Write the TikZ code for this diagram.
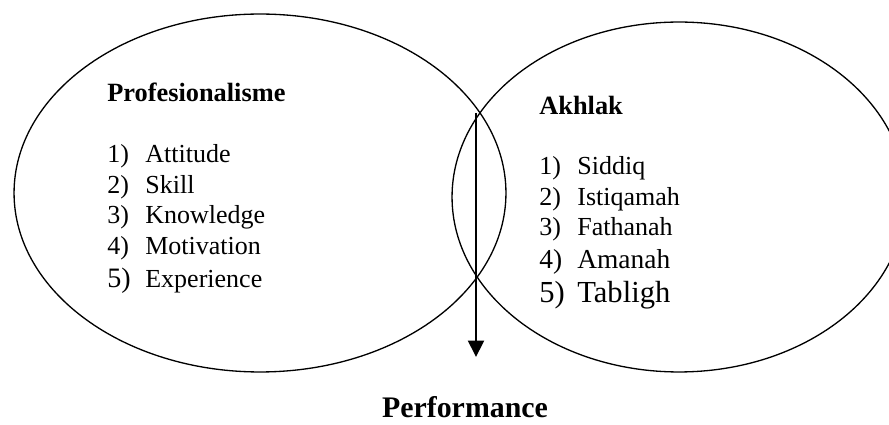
\documentclass[tikz,border=0pt]{standalone}
\usepackage{fontspec}
\setmainfont{Liberation Serif}
\usetikzlibrary{arrows.meta,shapes.geometric}

\newcommand{\nr}[1]{\makebox[0.76cm][l]{#1}}

\begin{document}
\begin{tikzpicture}[
  x=0.02cm, y=-0.02cm,
  ell/.style={draw, ellipse, inner sep=0pt, line width=0.75pt},
  ttl/.style={anchor=base west, inner sep=0pt, font=\fontsize{15}{18}\selectfont\bfseries},
  itm/.style={anchor=base west, inner sep=0pt, font=\fontsize{14.8}{18}\selectfont},
  a/.style={-{Triangle[width=0.32cm,length=0.33cm]}, line width=1.2pt}
]
  \path[use as bounding box, clip] (0,0) rectangle (889,425);
  % the two sets
  \node[ell, minimum width=9.84cm, minimum height=7.16cm] (prof) at (260,193) {};
  \node[ell, minimum width=9.08cm, minimum height=7.0cm] (akh) at (679,197) {};
  % left list
  \node[ttl] (tprof) at (107,102) {Profesionalisme};
  \node[itm] (p1) at (107,163) {\nr{1)}Attitude};
  \node[itm] (p2) at (107,194) {\nr{2)}Skill};
  \node[itm] (p3) at (107,224) {\nr{3)}Knowledge};
  \node[itm] (p4) at (107,255) {\nr{4)}Motivation};
  \node[itm] (p5) at (107,288) {\nr{{\fontsize{16}{18}\selectfont 5)}}Experience};
  % right list
  \node[ttl] (takh) at (539,115) {Akhlak};
  \node[itm] (a1) at (539,175) {\nr{1)}Siddiq};
  \node[itm] (a2) at (539,206) {\nr{2)}Istiqamah};
  \node[itm] (a3) at (539,236) {\nr{3)}Fathanah};
  \node[itm, font=\fontsize{15.6}{18}\selectfont] (a4) at (539,269) {\nr{4)}Amanah};
  \node[itm, font=\fontsize{17.4}{18}\selectfont] (a5) at (539,303) {\nr{5)}Tabligh};
  % result
  \coordinate (top) at (476,113);
  \coordinate (tip) at (476,357);
  \draw[a] (top) -- (tip);
  \node[anchor=base, inner sep=0pt, font=\fontsize{17}{20}\selectfont\bfseries] (perf) at (465,418) {Performance};
\end{tikzpicture}
\end{document}
